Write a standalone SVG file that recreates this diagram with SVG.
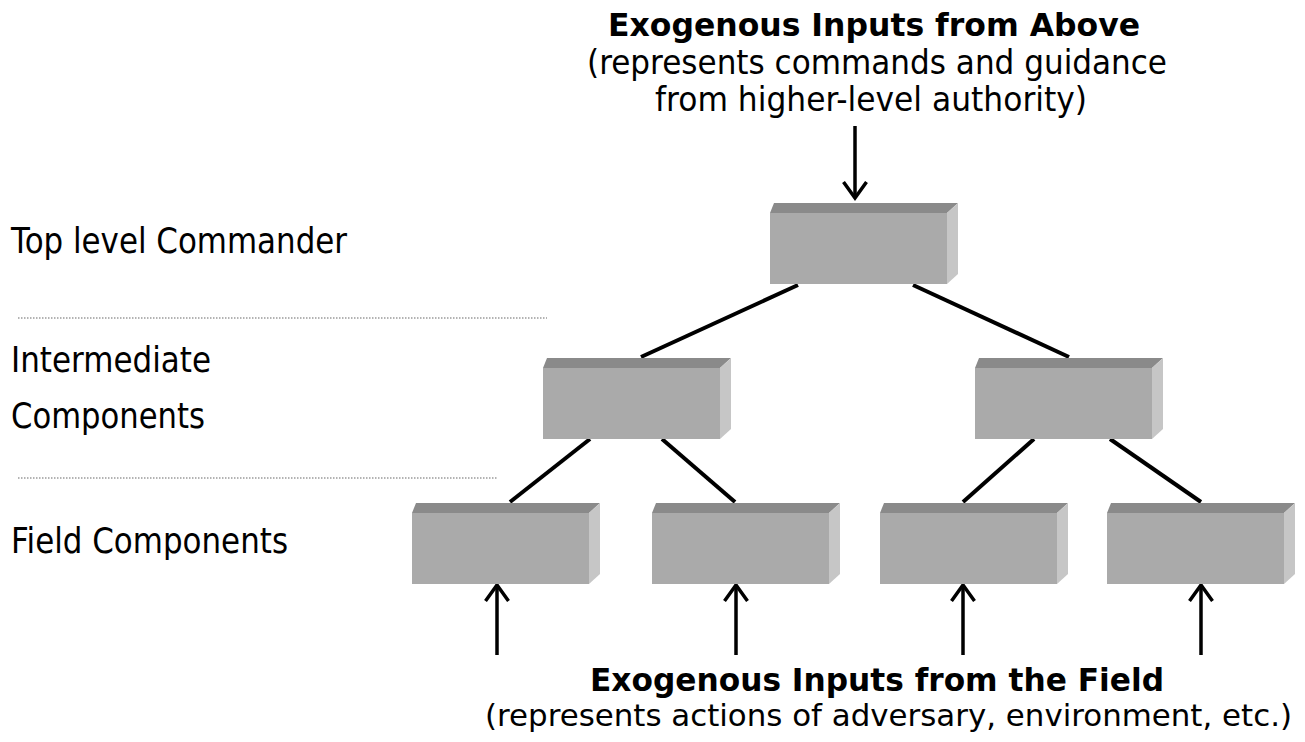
<svg xmlns="http://www.w3.org/2000/svg" width="1305" height="742" viewBox="0 0 1305 742">
<defs>
<style>
.t{font-family:"DejaVu Sans","Verdana",sans-serif;fill:#000}
.lbl{font-size:35px}
.hd{font-size:32px;font-weight:bold}
.sub{font-size:33px}
.sub2{font-size:31px}
.top{fill:#8a8a8a}
.front{fill:#aaaaaa}
.side{fill:#c6c6c6}
.conn{stroke:#000;stroke-width:4;fill:none}
.arr{stroke:#000;stroke-width:3.5;fill:none}
.dot{stroke:#9a9a9a;stroke-width:1.5;stroke-dasharray:1.5 1.5}
</style>
<g id="box">
<polygon class="top" points="0,10 4,0 188,0 177,10"/>
<rect class="front" x="0" y="10" width="177" height="71"/>
<polygon class="side" points="177,10 188,0 188,71 177,81"/>
</g>
<marker id="ah" viewBox="0 0 20 26" refX="17" refY="13" markerWidth="20" markerHeight="26" markerUnits="userSpaceOnUse" orient="auto">
<path d="M1,1.5 L17,13 L1,24.5" fill="none" stroke="#000" stroke-width="3.5" stroke-linejoin="miter"/>
</marker>
</defs>
<rect width="1305" height="742" fill="#fff"/>

<g id="labels">
<text class="t lbl" x="11" y="253" textLength="336" lengthAdjust="spacingAndGlyphs">Top level Commander</text>
<text class="t lbl" x="11" y="372" textLength="200" lengthAdjust="spacingAndGlyphs">Intermediate</text>
<text class="t lbl" x="11" y="428" textLength="194" lengthAdjust="spacingAndGlyphs">Components</text>
<text class="t lbl" x="11" y="553" textLength="277" lengthAdjust="spacingAndGlyphs">Field Components</text>
<line class="dot" x1="18" y1="318" x2="547" y2="318"/>
<line class="dot" x1="18" y1="478" x2="497" y2="478"/>
</g>

<g id="title-top">
<text class="t hd" x="608" y="36" textLength="532" lengthAdjust="spacingAndGlyphs">Exogenous Inputs from Above</text>
<text class="t sub" x="587" y="74" textLength="580" lengthAdjust="spacingAndGlyphs">(represents commands and guidance</text>
<text class="t sub" x="655" y="111" textLength="432" lengthAdjust="spacingAndGlyphs">from higher-level authority)</text>
</g>

<g id="title-bottom">
<text class="t hd" x="590" y="691" textLength="574" lengthAdjust="spacingAndGlyphs">Exogenous Inputs from the Field</text>
<text class="t sub2" x="485" y="726" textLength="807" lengthAdjust="spacingAndGlyphs">(represents actions of adversary, environment, etc.)</text>
</g>

<g id="connectors">
<line class="conn" x1="798" y1="285" x2="641" y2="357"/>
<line class="conn" x1="913" y1="285" x2="1069" y2="357"/>
<line class="conn" x1="590" y1="439" x2="510" y2="502"/>
<line class="conn" x1="662" y1="439" x2="735" y2="502"/>
<line class="conn" x1="1034" y1="439" x2="963" y2="502"/>
<line class="conn" x1="1110" y1="439" x2="1201" y2="502"/>
<line class="arr" x1="855" y1="126" x2="855" y2="198" marker-end="url(#ah)"/>
<line class="arr" x1="497" y1="655" x2="497" y2="585" marker-end="url(#ah)"/>
<line class="arr" x1="736" y1="655" x2="736" y2="585" marker-end="url(#ah)"/>
<line class="arr" x1="963" y1="655" x2="963" y2="585" marker-end="url(#ah)"/>
<line class="arr" x1="1201" y1="655" x2="1201" y2="585" marker-end="url(#ah)"/>
</g>

<g id="node-top"><use href="#box" x="770" y="203"/></g>
<g id="node-int-left"><use href="#box" x="543" y="358"/></g>
<g id="node-int-right"><use href="#box" x="975" y="358"/></g>
<g id="node-field-1"><use href="#box" x="412" y="503"/></g>
<g id="node-field-2"><use href="#box" x="652" y="503"/></g>
<g id="node-field-3"><use href="#box" x="880" y="503"/></g>
<g id="node-field-4"><use href="#box" x="1107" y="503"/></g>
</svg>
